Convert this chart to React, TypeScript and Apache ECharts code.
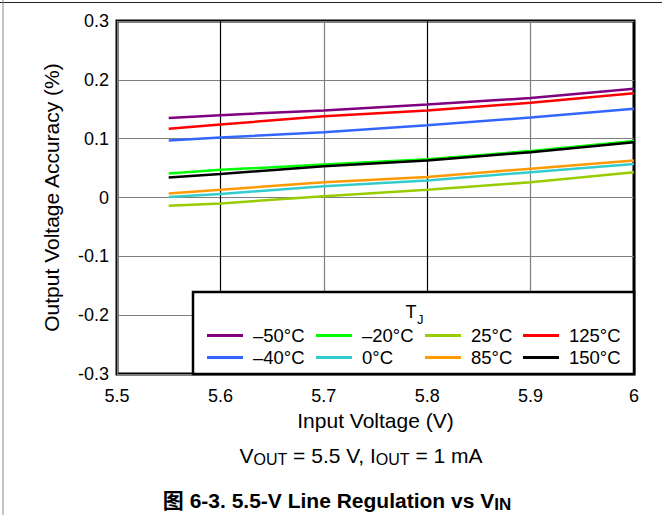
import React, { useEffect, useRef } from 'react';
import * as echarts from 'echarts';

const inputVoltage = [5.55, 5.6, 5.7, 5.8, 5.9, 6.0];
const seriesNames = ['–50°C', '–40°C', '–20°C', '0°C', '25°C', '85°C', '125°C', '150°C'];
const seriesColors = ['#800080', '#3366ff', '#00ff00', '#33cccc', '#99cc00', '#ff9900', '#ff0000', '#000000'];
const accM50 = [0.135, 0.140, 0.148, 0.158, 0.169, 0.185];
const accM40 = [0.097, 0.102, 0.111, 0.123, 0.136, 0.151];
const accM20 = [0.041, 0.047, 0.056, 0.065, 0.079, 0.096];
const acc0 = [0.001, 0.006, 0.019, 0.029, 0.043, 0.057];
const acc25 = [-0.014, -0.010, 0.002, 0.013, 0.026, 0.043];
const acc85 = [0.007, 0.013, 0.026, 0.035, 0.049, 0.063];
const acc125 = [0.117, 0.124, 0.138, 0.148, 0.161, 0.177];
const acc150 = [0.034, 0.040, 0.053, 0.063, 0.077, 0.094];
const seriesValues = [accM50, accM40, accM20, acc0, acc25, acc85, acc125, acc150];

const xTicks = [5.5, 5.6, 5.7, 5.8, 5.9, 6];
const xTickLabels = ['5.5', '5.6', '5.7', '5.8', '5.9', '6'];
const yTicks = [-0.3, -0.2, -0.1, 0, 0.1, 0.2, 0.3];
const yTickLabels = ['-0.3', '-0.2', '-0.1', '0', '0.1', '0.2', '0.3'];

const legendColumns = [
  ['–50°C', '–40°C'],
  ['–20°C', '0°C'],
  ['25°C', '85°C'],
  ['125°C', '150°C'],
];

const FONT = '"Liberation Sans", Arial, Helvetica, sans-serif';
const CJK_FONT = '"Liberation Sans", Arial, "Noto Sans CJK SC", sans-serif';

function tickLabel(ticks: number[], labels: string[], v: number): string {
  const i = ticks.findIndex((t) => Math.abs(t - v) < 1e-6);
  return i >= 0 ? labels[i] : '';
}

export default function App() {
  const ref = useRef<HTMLDivElement>(null);
  useEffect(() => {
    if (!ref.current) return;
    const chart = echarts.init(ref.current, undefined, { renderer: 'svg' });
    const gridLeft = 117;
    const gridRight = 634;
    const gridTop = 21;
    const gridBottom = 374;
    const legendLefts = [207, 316, 425, 523];
    const option: any = {
      animation: false,
      backgroundColor: '#ffffff',
      textStyle: { fontFamily: FONT },
      grid: {
        left: gridLeft,
        right: 662 - gridRight,
        top: gridTop,
        bottom: 515 - gridBottom,
        show: true,
        borderColor: '#000',
        borderWidth: 3,
        backgroundColor: 'transparent',
      },
      xAxis: {
        type: 'value',
        min: 5.5,
        max: 6,
        interval: 0.1,
        name: 'Input Voltage (V)',
        nameLocation: 'middle',
        nameGap: 33,
        nameTextStyle: { fontSize: 21, color: '#000', fontFamily: FONT },
        axisLine: { show: false },
        axisTick: { show: false },
        axisLabel: {
          fontSize: 18,
          color: '#000',
          margin: 13,
          fontFamily: FONT,
          formatter: (v: number) => tickLabel(xTicks, xTickLabels, v),
        },
        splitLine: { show: true, lineStyle: { color: ['#7f7f7f', '#000000'], width: 1.2 } },
      },
      yAxis: {
        type: 'value',
        min: -0.3,
        max: 0.3,
        interval: 0.1,
        name: 'Output Voltage Accuracy (%)',
        nameLocation: 'middle',
        nameGap: 55,
        nameTextStyle: { fontSize: 21, color: '#000', fontFamily: FONT },
        axisLine: { show: false },
        axisTick: { show: false },
        axisLabel: {
          fontSize: 18,
          color: '#000',
          margin: 8,
          fontFamily: FONT,
          formatter: (v: number) => tickLabel(yTicks, yTickLabels, v),
        },
        splitLine: { show: true, lineStyle: { color: '#7f7f7f', width: 1.2 } },
      },
      legend: legendColumns.map((col, i) => ({
        data: col,
        orient: 'vertical',
        left: legendLefts[i],
        top: 326,
        itemWidth: 36,
        itemHeight: 3,
        itemGap: 3,
        icon: 'rect',
        selectedMode: false,
        padding: 0,
        textStyle: { fontSize: 18.5, color: '#000', fontFamily: FONT, padding: [0, 0, 0, 5] },
      })),
      graphic: [
        {
          type: 'line',
          shape: { x1: 0, y1: 2.5, x2: 662, y2: 2.5 },
          style: { stroke: '#222', lineWidth: 1 },
        },
        {
          type: 'line',
          shape: { x1: 3, y1: 0, x2: 3, y2: 515 },
          style: { stroke: '#888', lineWidth: 1 },
        },
        {
          type: 'rect',
          z: 3,
          shape: { x: 193, y: 292, width: gridRight - 193, height: gridBottom - 292 },
          style: { fill: '#fff', stroke: '#000', lineWidth: 2.5 },
        },
        {
          type: 'text',
          z: 5,
          x: 411,
          y: 312,
          style: { text: 'T', fontSize: 18, fontFamily: FONT, fill: '#000', align: 'center', verticalAlign: 'middle' },
        },
        {
          type: 'text',
          z: 5,
          x: 417,
          y: 319,
          style: { text: 'J', fontSize: 13, fontFamily: FONT, fill: '#000', align: 'left', verticalAlign: 'middle' },
        },
        {
          type: 'text',
          x: 361,
          y: 455,
          style: {
            text: '{n|V}{s|OUT}{n| = 5.5 V, I}{s|OUT}{n| = 1 mA}',
            align: 'center',
            verticalAlign: 'middle',
            fill: '#000',
            rich: {
              n: { fontSize: 21, lineHeight: 25, fontFamily: FONT, fill: '#000' },
              s: { fontSize: 16, lineHeight: 15, verticalAlign: 'bottom', fontFamily: FONT, fill: '#000' },
            },
          },
        },
        {
          type: 'text',
          x: 337,
          y: 500,
          style: {
            text: '{b|图 6-3. 5.5-V Line Regulation vs V}{s|IN}',
            align: 'center',
            verticalAlign: 'middle',
            fill: '#000',
            rich: {
              b: { fontSize: 21, lineHeight: 25, fontWeight: 'bold', fontFamily: CJK_FONT, fill: '#000' },
              s: { fontSize: 17, lineHeight: 17, fontWeight: 'bold', verticalAlign: 'bottom', fontFamily: FONT, fill: '#000' },
            },
          },
        },
      ],
      series: seriesNames.map((name, i) => ({
        name,
        type: 'line',
        color: seriesColors[i],
        showSymbol: false,
        symbol: 'none',
        smooth: false,
        lineStyle: { width: 2.5, color: seriesColors[i] },
        data: inputVoltage.map((x, j) => [x, seriesValues[i][j]]),
      })),
    };
    chart.setOption(option);
    return () => chart.dispose();
  }, []);
  return <div ref={ref} style={{ position: 'fixed', left: 0, top: 0, width: 662, height: 515 }} />;
}
